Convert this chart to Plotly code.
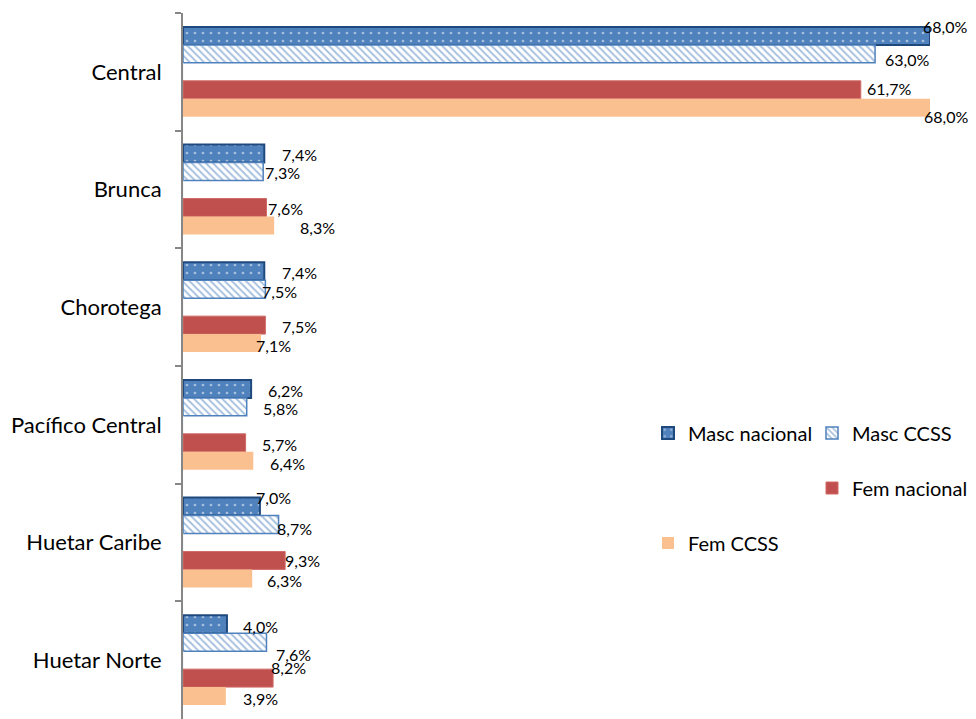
import plotly.graph_objects as go

# ---------------- data ----------------
categories = ["Central", "Brunca", "Chorotega", "Pacífico Central", "Huetar Caribe", "Huetar Norte"]
masc_nacional = [68.0, 7.4, 7.4, 6.2, 7.0, 4.0]
masc_ccss = [63.0, 7.3, 7.5, 5.8, 8.7, 7.6]
fem_nacional = [61.7, 7.6, 7.5, 5.7, 9.3, 8.2]
fem_ccss = [68.0, 8.3, 7.1, 6.4, 6.3, 3.9]
series_names = ["Masc nacional", "Masc CCSS", "Fem nacional", "Fem CCSS"]

# ---------------- style / layout ----------------
# the page body has an 8px margin, so the figure is drawn 8px in from the window edge
OFF = 8
W, H = 976 - 2 * OFF, 719 - OFF
ML, MR, MT, MB = 183 - OFF, 46 - OFF, 13 - OFF, 0
PLOT_W = W - ML - MR
PLOT_H = H - MT - MB
BARGAP = 0.237
N_SLOTS = 5  # 4 series + one empty slot between masc and fem
band = PLOT_H / len(categories)
slot = band * (1 - BARGAP) / N_SLOTS

BLUE = "#4F81BD"
NAVY = "#1F497D"
RED = "#C0504D"
PEACH = "#FAC090"
FONT = "Lato"

# label nudges (screen px) relative to bar end / bar centre, per category, per series
label_nudges = [
    [(-7, -9), (10, 6), (6, -1), (-6, 9)],
    [(18, 1), (2, 1), (2, 1), (26, 2)],
    [(18, 1), (-3, 2), (17, 1), (-5, 2)],
    [(17, 2), (16, 2), (16, 2), (17, 3)],
    [(-4, -9), (-2, 4), (0, 0), (15, 2)],
    [(16, 2), (10, 12), (-2, -11), (17, 2)],
]

fig = go.Figure()

fig.add_trace(go.Bar(
    name=series_names[0], y=categories, x=masc_nacional, orientation="h",
    marker=dict(color=BLUE, line=dict(color=NAVY, width=2),
                pattern=dict(shape=".", fgcolor="white", bgcolor=BLUE, size=8, solidity=0.09)),
    legend="legend",
))
fig.add_trace(go.Bar(
    name=series_names[1], y=categories, x=masc_ccss, orientation="h",
    marker=dict(color="white", line=dict(color=BLUE, width=1.5),
                pattern=dict(shape="\\", fgcolor=BLUE, bgcolor="white", size=5, solidity=0.4)),
    legend="legend2",
))
fig.add_trace(go.Bar(
    name="", y=categories, x=[0] * len(categories), orientation="h",
    marker=dict(color="rgba(0,0,0,0)"), showlegend=False, hoverinfo="skip",
))
fig.add_trace(go.Bar(
    name=series_names[2], y=categories, x=fem_nacional, orientation="h",
    marker=dict(color=RED, line=dict(color="#D06A67", width=1)),
    legend="legend3",
))
fig.add_trace(go.Bar(
    name=series_names[3], y=categories, x=fem_ccss, orientation="h",
    marker=dict(color=PEACH, line=dict(width=0)),
    legend="legend4",
))

# data labels
series_values = [masc_nacional, masc_ccss, fem_nacional, fem_ccss]
slot_index = [0, 1, 3, 4]
annotations = []
for s, vals in enumerate(series_values):
    for c, v in enumerate(vals):
        dx, dy = label_nudges[c][s]
        off = (slot_index[s] - 2) * slot + dy
        annotations.append(dict(
            x=v, y=categories[c], xref="x", yref="y",
            text=f"{v:.1f}%".replace(".", ","),
            showarrow=False, xanchor="left", yanchor="middle",
            xshift=dx - 2, yshift=-off,
            font=dict(family=FONT, size=16, color="black"),
        ))


def px_x(px):
    """window pixel -> paper x"""
    return (px - OFF - ML) / PLOT_W


def px_y(py):
    """window pixel -> paper y"""
    return (H - MB - (py - OFF)) / PLOT_H


legend_font = dict(family=FONT, size=20, color="black")
legend_pos = [(648, 433), (812, 433), (812, 488), (648, 543)]
legends = {}
for i, key in enumerate(["legend", "legend2", "legend3", "legend4"]):
    lx, ly = legend_pos[i]
    legends[key] = dict(
        x=px_x(lx), y=px_y(ly), xanchor="left", yanchor="middle",
        font=legend_font, bgcolor="rgba(0,0,0,0)", itemwidth=30,
    )

fig.update_layout(
    width=W, height=H,
    margin=dict(l=ML, r=MR, t=MT, b=MB, pad=0, autoexpand=False),
    barmode="group", bargap=BARGAP, bargroupgap=0,
    plot_bgcolor="white", paper_bgcolor="white",
    font=dict(family=FONT, size=22, color="black"),
    xaxis=dict(range=[0, 68], visible=False, fixedrange=True),
    yaxis=dict(
        autorange="reversed", showline=True, linecolor="#868686", linewidth=2,
        ticks="outside", tickson="boundaries", ticklen=6, tickcolor="#868686", tickwidth=1.5,
        tickfont=dict(family=FONT, size=22, color="black"), ticklabelstandoff=15,
        showgrid=False, zeroline=False, automargin=False,
    ),
    annotations=annotations,
    **legends,
)

fig.write_html("out.html")
